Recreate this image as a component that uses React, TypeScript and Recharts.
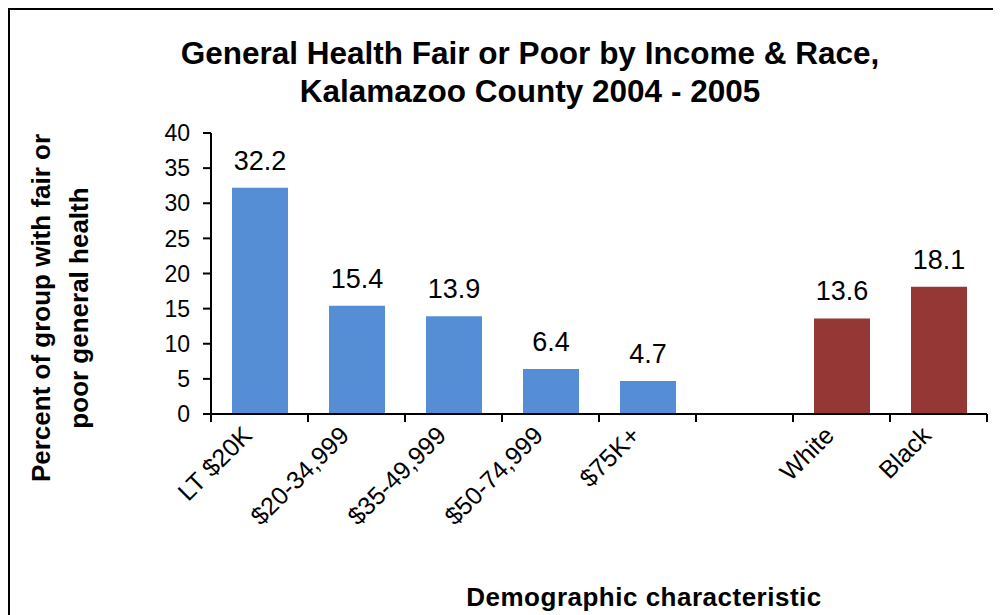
import React from 'react';
import { BarChart, Bar, XAxis, YAxis, Cell, LabelList } from 'recharts';

const categories = ['LT $20K', '$20-34,999', '$35-49,999', '$50-74,999', '$75K+', '', 'White', 'Black'];
const values: (number | null)[] = [32.2, 15.4, 13.9, 6.4, 4.7, null, 13.6, 18.1];
const groups = ['income', 'income', 'income', 'income', 'income', 'gap', 'race', 'race'];
const yTicks = [0, 5, 10, 15, 20, 25, 30, 35, 40];

const titleLines = ['General Health Fair or Poor by Income & Race,', 'Kalamazoo County 2004 - 2005'];
const yTitleLines = ['Percent of group with fair or', 'poor general health'];
const xTitle = 'Demographic characteristic';

const groupColors: Record<string, string> = { income: '#558ED5', race: '#953735', gap: '#ffffff' };

const data = categories.map((name, i) => ({ name, value: values[i], group: groups[i] }));

const FONT = '"Liberation Sans", Arial, sans-serif';

const XTick = (props: any) => {
  const { x, y, payload, index, visibleTicksCount } = props;
  const half = payload && payload.offset ? payload.offset : 0;
  const ax = x - 6;
  const ay = y + 23;
  const isLast = index === visibleTicksCount - 1;
  return (
    <g>
      <line x1={x - half} y1={y} x2={x - half} y2={y + 8} stroke="#000" strokeWidth={2} />
      {isLast && <line x1={x + half} y1={y} x2={x + half} y2={y + 8} stroke="#000" strokeWidth={2} />}
      <text
        x={ax}
        y={ay}
        transform={`rotate(-45 ${ax} ${ay})`}
        textAnchor="end"
        fontSize={25}
        fontFamily={FONT}
        fill="#000"
      >
        {payload.value}
      </text>
    </g>
  );
};

export default function App() {
  return (
    <div style={{ position: 'relative', width: 993, height: 607, overflow: 'hidden', background: '#fff' }}>
      <BarChart
        width={993}
        height={607}
        data={data}
        margin={{ top: 125, right: 14, left: 0, bottom: 0 }}
        style={{ fontFamily: FONT }}
      >
        <XAxis
          dataKey="name"
          height={201}
          axisLine={{ stroke: '#000', strokeWidth: 2 }}
          tickLine={false}
          tickSize={0}
          tickMargin={0}
          interval={0}
          allowDuplicatedCategory
          tick={<XTick />}
        />
        <XAxis
          xAxisId="top"
          orientation="top"
          dataKey="name"
          height={0}
          tick={false}
          tickLine={false}
          allowDuplicatedCategory
          axisLine={{ stroke: '#000', strokeWidth: 2 }}
        />
        <YAxis
          domain={[0, 40]}
          ticks={yTicks}
          width={203}
          interval={0}
          tickSize={8}
          tickMargin={13}
          axisLine={{ stroke: '#000', strokeWidth: 2 }}
          tickLine={{ stroke: '#000', strokeWidth: 2 }}
          tick={{ fontSize: 23, fill: '#000', fontFamily: FONT }}
        />
        <YAxis
          yAxisId="r"
          orientation="right"
          domain={[0, 40]}
          width={0}
          tick={false}
          tickLine={false}
          axisLine={{ stroke: '#000', strokeWidth: 2 }}
        />
        <Bar dataKey="value" barSize={56} isAnimationActive={false}>
          {data.map((d, i) => (
            <Cell key={i} fill={groupColors[d.group]} />
          ))}
          <LabelList
            dataKey="value"
            position="top"
            offset={18}
            fontSize={27}
            fill="#000"
            fontFamily={FONT}
          />
        </Bar>
        <text x={522} y={56} textAnchor="middle" fontSize={31.5} fontWeight="bold" fontFamily={FONT} fill="#000">
          {titleLines[0]}
        </text>
        <text x={522} y={94} textAnchor="middle" fontSize={31.5} fontWeight="bold" fontFamily={FONT} fill="#000">
          {titleLines[1]}
        </text>
        <text
          x={42}
          y={300}
          transform="rotate(-90 42 300)"
          textAnchor="middle"
          fontSize={26}
          fontWeight="bold"
          fontFamily={FONT}
          fill="#000"
        >
          {yTitleLines[0]}
        </text>
        <text
          x={80}
          y={300}
          transform="rotate(-90 80 300)"
          textAnchor="middle"
          fontSize={26}
          fontWeight="bold"
          fontFamily={FONT}
          fill="#000"
        >
          {yTitleLines[1]}
        </text>
        <text x={636} y={598} textAnchor="middle" fontSize={26} letterSpacing={0.5} fontWeight="bold" fontFamily={FONT} fill="#000">
          {xTitle}
        </text>
      </BarChart>
      <div style={{ position: 'absolute', left: 0, top: 0, width: '100%', height: 2, background: '#000' }} />
      <div style={{ position: 'absolute', left: 0, top: 0, width: 2, height: '100%', background: '#000' }} />
    </div>
  );
}
